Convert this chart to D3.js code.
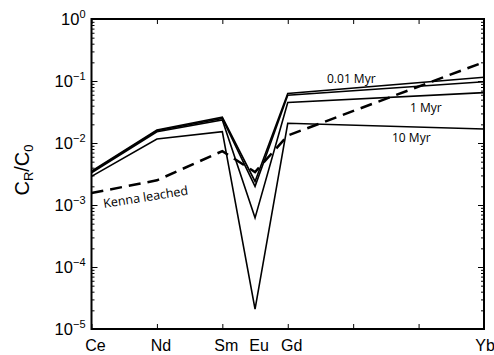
<!doctype html>
<html>
<head>
<script src="https://d3js.org/d3.v7.min.js"></script>
<style>
  body { margin: 0; background: #fff; }
  .tick line { stroke: #000; stroke-width: 1; }
  .domain { display: none; }
</style>
</head>
<body>
<svg width="494" height="355"></svg>
<script>
// data
var elements = ["Ce", "Nd", "Sm", "Eu", "Gd", "Yb"];
var elemPos  = [0, 1, 2, 2.5, 3, 6];
var myr001 = [3.5e-3, 0.0162, 0.0260, 2.4e-3, 0.063, 0.115];
var myr01  = [3.4e-3, 0.0158, 0.0249, 2.0e-3, 0.059, 0.0975];
var myr1   = [3.3e-3, 0.0152, 0.0236, 6.2e-4, 0.045, 0.065];
var myr10  = [2.9e-3, 0.0116, 0.0152, 2.1e-5, 0.0208, 0.0168];
var kenna  = [1.56e-3, 2.5e-3, 7.4e-3, 3.4e-3, 0.0132, 0.202];
var yExp = [0, -1, -2, -3, -4, -5];

var svg = d3.select("svg"),
    pL = 91.5, pR = 484, pT = 19, pB = 329;

var x = d3.scaleLinear().domain([0, 6]).range([pL, pR]),
    y = d3.scaleLog().domain([1e-5, 1]).range([pB, pT]);

// minor ticks for log axis
var minors = [];
for (var e = -5; e < 0; e++) {
  for (var m = 2; m <= 9; m++) minors.push(m * Math.pow(10, e));
}
var majors = yExp.map(function(p) { return Math.pow(10, p); });

// y axes (left + right), ticks inward
svg.append("g").attr("transform", "translate(" + pL + ",0)")
   .call(d3.axisLeft(y).tickValues(minors).tickSizeInner(-3).tickSizeOuter(0).tickFormat(""));
svg.append("g").attr("transform", "translate(" + pR + ",0)")
   .call(d3.axisRight(y).tickValues(minors).tickSizeInner(-3).tickSizeOuter(0).tickFormat(""));
svg.append("g").attr("transform", "translate(" + pR + ",0)")
   .call(d3.axisRight(y).tickValues(majors).tickSizeInner(-6).tickSizeOuter(0).tickFormat(""));

var yAx = svg.append("g").attr("transform", "translate(" + pL + ",0)")
   .call(d3.axisLeft(y).tickValues(majors).tickSizeInner(-6).tickSizeOuter(0).tickPadding(6).tickFormat(""));
yAx.selectAll(".tick text").each(function(d) {
  var t = d3.select(this)
    .attr("font-family", "Liberation Sans, Arial, sans-serif")
    .attr("font-size", 16.5).attr("fill", "#000").attr("dy", "0.36em");
  var p = Math.round(Math.log10(d));
  t.append("tspan").text("10");
  t.append("tspan").attr("dy", -7).attr("font-size", 11)
   .text(p === 0 ? "0" : "\u2212" + (-p));
});

// x axes (bottom + top), ticks inward
var xt = [0, 1, 2, 3, 4, 5, 6];
svg.append("g").attr("transform", "translate(0," + pB + ")")
   .call(d3.axisBottom(x).tickValues(xt).tickSizeInner(-5).tickSizeOuter(0).tickFormat(""));
svg.append("g").attr("transform", "translate(0," + pT + ")")
   .call(d3.axisTop(x).tickValues(xt).tickSizeInner(-5).tickSizeOuter(0).tickFormat(""));

// element labels
svg.selectAll(".elab").data(elements).enter().append("text")
   .attr("class", "elab")
   .attr("x", function(d, i) { return x(elemPos[i]); })
   .attr("dx", function(d, i) { return i === elements.length - 1 ? 1 : 4; })
   .attr("y", 351)
   .attr("text-anchor", "middle")
   .attr("font-family", "Liberation Sans, Arial, sans-serif")
   .attr("font-size", 16)
   .text(function(d) { return d; });

// box
svg.append("rect").attr("x", pL).attr("y", pT)
   .attr("width", pR - pL).attr("height", pB - pT)
   .attr("fill", "none").attr("stroke", "#000").attr("stroke-width", 2);

var line = d3.line()
   .x(function(d, i) { return x(elemPos[i]); })
   .y(function(d) { return y(d); });

[myr001, myr01, myr1, myr10].forEach(function(s) {
  svg.append("path").datum(s).attr("d", line)
     .attr("fill", "none").attr("stroke", "#000").attr("stroke-width", 1.6);
});

svg.append("path").datum(kenna).attr("d", line)
   .attr("fill", "none").attr("stroke", "#000").attr("stroke-width", 2.5)
   .attr("stroke-dasharray", "12,7");

// annotations
var af = "Open Sans, Noto Sans, sans-serif";
svg.append("text").attr("x", 327).attr("y", 83).attr("font-family", af).attr("font-size", 12).text("0.01 Myr");
svg.append("text").attr("x", 410).attr("y", 112).attr("font-family", af).attr("font-size", 12).text("1 Myr");
svg.append("text").attr("x", 392).attr("y", 142).attr("font-family", af).attr("font-size", 12).text("10 Myr");
svg.append("text").attr("transform", "translate(104,208) rotate(-9)")
   .attr("font-family", af).attr("font-size", 12.5).text("Kenna leached");

// y label
var yl = svg.append("text").attr("transform", "translate(29,170) rotate(-90)")
   .attr("text-anchor", "middle")
   .attr("font-family", "Liberation Sans, Arial, sans-serif").attr("font-size", 20);
yl.append("tspan").text("C");
yl.append("tspan").attr("dy", 4).attr("font-size", 13).text("R");
yl.append("tspan").attr("dy", -4).text("/C");
yl.append("tspan").attr("dy", 4).attr("font-size", 13).text("0");
</script>
</body>
</html>
